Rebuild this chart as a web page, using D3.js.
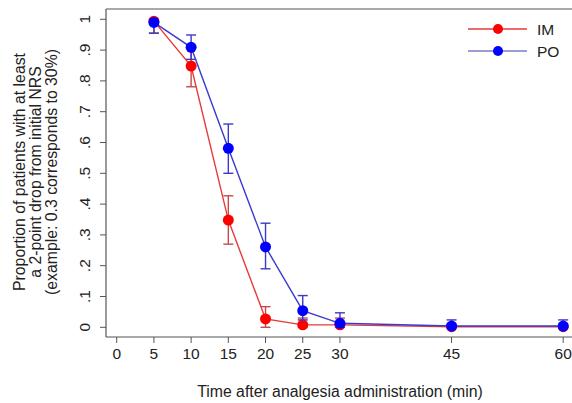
<!DOCTYPE html>
<html>
<head>
<meta charset="utf-8">
<script src="https://cdn.jsdelivr.net/npm/d3@7"></script>
<style>
  body { margin: 0; background: #fff; }
  text { font-family: "Liberation Sans", Arial, sans-serif; fill: #222; }
</style>
</head>
<body>
<div id="chart"></div>
<script>
// data
var times = [5, 10, 15, 20, 25, 30, 45, 60];
var imMean = [0.994, 0.848, 0.348, 0.027, 0.008, 0.008, 0.002, 0.002];
var imLow  = [0.955, 0.781, 0.270, 0.000, 0.000, 0.000, 0.000, 0.000];
var imHigh = [1.000, 0.915, 0.427, 0.067, 0.030, 0.030, 0.010, 0.010];
var poMean = [0.990, 0.909, 0.581, 0.261, 0.054, 0.013, 0.004, 0.004];
var poLow  = [0.955, 0.870, 0.500, 0.190, 0.024, 0.000, 0.000, 0.000];
var poHigh = [1.000, 0.949, 0.660, 0.338, 0.103, 0.047, 0.024, 0.024];
var xTicks = [0, 5, 10, 15, 20, 25, 30, 45, 60];
var yTicks = [0, 0.1, 0.2, 0.3, 0.4, 0.5, 0.6, 0.7, 0.8, 0.9, 1];
var yTickLabels = ["0", ".1", ".2", ".3", ".4", ".5", ".6", ".7", ".8", ".9", "1"];

var svg = d3.select("#chart")
  .append("svg")
    .attr("width", 572)
    .attr("height", 403);

var x = d3.scaleLinear().domain([0, 60]).range([116.7, 563.2]);
var y = d3.scaleLinear().domain([0, 1]).range([327.3, 19.3]);

// frame: left, top and bottom lines
svg.append("line").attr("x1", 106).attr("x2", 106).attr("y1", 9).attr("y2", 337)
  .attr("stroke", "#555").attr("stroke-width", 1.2);
svg.append("line").attr("x1", 106).attr("x2", 572).attr("y1", 9).attr("y2", 9)
  .attr("stroke", "#555").attr("stroke-width", 1.2);
svg.append("line").attr("x1", 106).attr("x2", 572).attr("y1", 337).attr("y2", 337)
  .attr("stroke", "#555").attr("stroke-width", 1.2);

// y axis ticks + rotated labels
var yAxis = svg.append("g");
yAxis.selectAll("line").data(yTicks).enter().append("line")
  .attr("x1", 100).attr("x2", 106)
  .attr("y1", function(d) { return y(d); })
  .attr("y2", function(d) { return y(d); })
  .attr("stroke", "#555");
yAxis.selectAll("text").data(yTicks).enter().append("text")
  .attr("transform", function(d) { return "translate(90," + y(d) + ") rotate(-90)"; })
  .attr("text-anchor", "middle")
  .style("font-size", "15.5px")
  .text(function(d, i) { return yTickLabels[i]; });

// x axis ticks
var xAxis = svg.append("g");
xAxis.selectAll("line").data(xTicks).enter().append("line")
  .attr("x1", function(d) { return x(d); })
  .attr("x2", function(d) { return x(d); })
  .attr("y1", 337).attr("y2", 343)
  .attr("stroke", "#555");
xAxis.selectAll("text").data(xTicks).enter().append("text")
  .attr("x", function(d) { return x(d); })
  .attr("y", 359)
  .attr("text-anchor", "middle")
  .style("font-size", "15.5px")
  .text(function(d) { return d; });

// axis titles
svg.append("text")
  .attr("x", 340).attr("y", 397)
  .attr("text-anchor", "middle")
  .style("font-size", "15.8px")
  .text("Time after analgesia administration (min)");

var yTitle = ["Proportion of patients with at least", "a 2-point drop from initial NRS", "(example: 0.3 corresponds to 30%)"];
svg.selectAll(".ytitle").data(yTitle).enter().append("text")
  .attr("class", "ytitle")
  .attr("transform", function(d, i) { return "translate(" + (25 + i * 16) + ",172) rotate(-90)"; })
  .attr("text-anchor", "middle")
  .style("font-size", "15.8px")
  .text(function(d) { return d; });

var line = d3.line()
  .x(function(d) { return x(d[0]); })
  .y(function(d) { return y(d[1]); });

function drawSeries(mean, low, high, lineColor, barColor, dotColor) {
  var g = svg.append("g");
  var pts = times.map(function(t, i) { return [t, mean[i], low[i], high[i]]; });
  g.append("path")
    .datum(pts)
    .attr("d", line)
    .attr("fill", "none")
    .attr("stroke", lineColor)
    .attr("stroke-width", 1.4);
  var bars = g.selectAll(".bar").data(pts).enter().append("g");
  bars.append("line")
    .attr("x1", function(d) { return x(d[0]); })
    .attr("x2", function(d) { return x(d[0]); })
    .attr("y1", function(d) { return y(d[2]); })
    .attr("y2", function(d) { return y(d[3]); })
    .attr("stroke", barColor).attr("stroke-width", 1.4);
  [2, 3].forEach(function(k) {
    bars.append("line")
      .attr("x1", function(d) { return x(d[0]) - 5; })
      .attr("x2", function(d) { return x(d[0]) + 5; })
      .attr("y1", function(d) { return y(d[k]); })
      .attr("y2", function(d) { return y(d[k]); })
      .attr("stroke", barColor).attr("stroke-width", 1.4);
  });
  g.selectAll("circle").data(pts).enter().append("circle")
    .attr("cx", function(d) { return x(d[0]); })
    .attr("cy", function(d) { return y(d[1]); })
    .attr("r", 5.5)
    .attr("fill", dotColor);
}

drawSeries(imMean, imLow, imHigh, "#e83a3a", "#c84848", "#ff0000");
drawSeries(poMean, poLow, poHigh, "#3a3ad0", "#3a3ac8", "#0000ff");

// legend
var legend = [["IM", "#e83a3a", "#ff0000"], ["PO", "#7a7ac8", "#0000ff"]];
var lg = svg.selectAll(".legend").data(legend).enter().append("g")
  .attr("transform", function(d, i) { return "translate(0," + (29 + i * 22) + ")"; });
lg.append("line").attr("x1", 468).attr("x2", 527).attr("y1", 0).attr("y2", 0)
  .attr("stroke", function(d) { return d[1]; }).attr("stroke-width", 1.4);
lg.append("circle").attr("cx", 498).attr("cy", 0).attr("r", 5)
  .attr("fill", function(d) { return d[2]; });
lg.append("text").attr("x", 537).attr("y", 5.5)
  .style("font-size", "15.5px")
  .text(function(d) { return d[0]; });
</script>
</body>
</html>
